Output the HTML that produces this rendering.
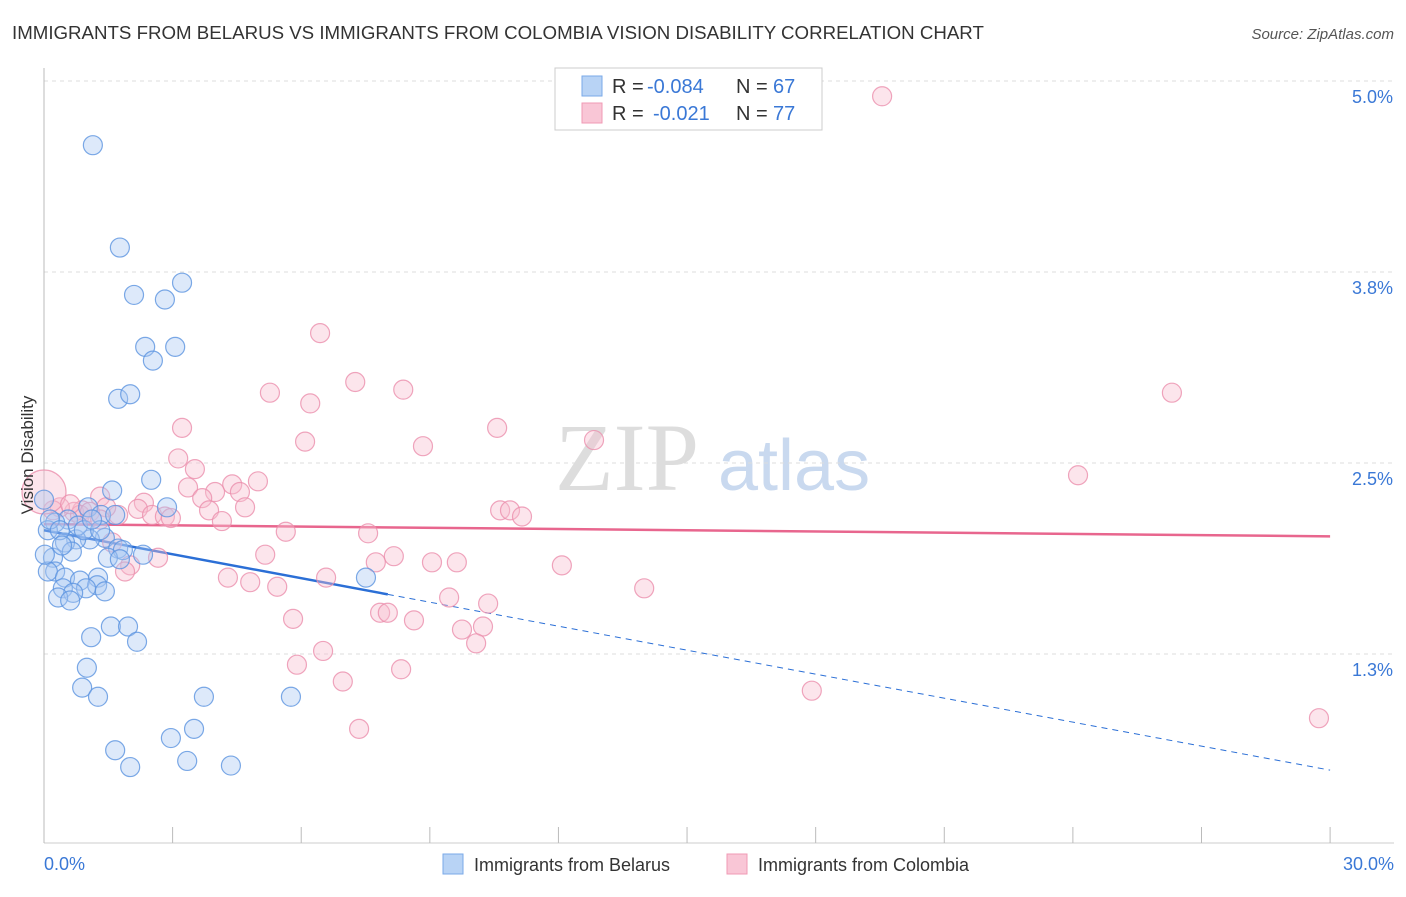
<!DOCTYPE html>
<html><head><meta charset="utf-8"><style>
body{margin:0;background:#fff;font-family:"Liberation Sans",sans-serif}
</style></head><body>
<svg width="1406" height="892" xmlns="http://www.w3.org/2000/svg" font-family="Liberation Sans, sans-serif">
<text x="12" y="39" font-size="18.7" fill="#333">IMMIGRANTS FROM BELARUS VS IMMIGRANTS FROM COLOMBIA VISION DISABILITY CORRELATION CHART</text>
<text x="1394" y="39" font-size="15" fill="#555" font-style="italic" text-anchor="end">Source: ZipAtlas.com</text>
<g><text x="555" y="490" font-size="96" font-family="Liberation Serif, serif" fill="#ddd">ZIP</text><text x="718" y="490" font-size="72" fill="#c9d9ef">atlas</text></g>
<g id="grid"></g>
<g id="axes"></g>
<g id="trend"></g>
<g id="pts"></g>
<g>
<rect x="555" y="68" width="267" height="62" fill="#fff" stroke="#ccc"/>
<rect x="582" y="76" width="20" height="20" fill="#b8d3f5" stroke="#7aaae8"/>
<rect x="582" y="103" width="20" height="20" fill="#f9c6d6" stroke="#f09ab4"/>
<text x="612" y="93" font-size="20" fill="#333">R =</text>
<text x="647" y="93" font-size="20" fill="#3a78d6">-0.084</text>
<text x="736" y="93" font-size="20" fill="#333">N =</text>
<text x="773" y="93" font-size="20" fill="#3a78d6">67</text>
<text x="612" y="120" font-size="20" fill="#333">R =</text>
<text x="653" y="120" font-size="20" fill="#3a78d6">-0.021</text>
<text x="736" y="120" font-size="20" fill="#333">N =</text>
<text x="773" y="120" font-size="20" fill="#3a78d6">77</text>
</g>
<text transform="translate(33,455) rotate(-90)" font-size="17" fill="#333" text-anchor="middle">Vision Disability</text>
<text x="44" y="870" font-size="18" fill="#3a78d6">0.0%</text>
<text x="1394" y="870" font-size="18" fill="#3a78d6" text-anchor="end">30.0%</text>
<g>
<rect x="443" y="854" width="20" height="20" fill="#b8d3f5" stroke="#7aaae8"/>
<text x="474" y="871" font-size="18" fill="#333">Immigrants from Belarus</text>
<rect x="727" y="854" width="20" height="20" fill="#f9c6d6" stroke="#f09ab4"/>
<text x="758" y="871" font-size="18" fill="#333">Immigrants from Colombia</text>
</g>
</svg>
<script>
const yTicks=[5.0,3.75,2.5,1.25];
const yTickLabels=["5.0%","3.8%","2.5%","1.3%"];
const xTicks=[0,3,6,9,12,15,18,21,24,27,30];
const belarusX=[1.14,1.77,2.10,2.82,3.22,2.36,3.06,2.54,1.73,2.01,2.50,1.59,2.87,1.03,1.33,1.66,0.56,0.26,0.09,1.42,1.07,0.75,0.49,0.65,1.73,1.84,2.31,1.49,0.21,0.26,0.09,0.49,0.84,1.26,1.24,0.44,0.98,1.42,0.68,0.33,7.51,1.56,1.96,2.17,1.10,1.00,0.89,1.26,3.73,5.76,3.50,2.96,1.66,3.34,2.01,4.36,0,0.14,0.37,0.79,0.93,0.42,0.02,0.61,1.77,1.31,1.12];
const belarusY=[4.58,3.91,3.60,3.57,3.68,3.26,3.26,3.17,2.92,2.95,2.39,2.32,2.21,2.21,2.16,2.16,2.13,2.11,2.06,2.01,2.00,2.00,1.98,1.92,1.94,1.93,1.90,1.88,1.88,1.79,1.79,1.75,1.73,1.75,1.70,1.68,1.68,1.66,1.65,1.62,1.75,1.43,1.43,1.33,1.36,1.16,1.03,0.97,0.97,0.97,0.76,0.70,0.62,0.55,0.51,0.52,2.26,2.13,2.06,2.09,2.06,1.96,1.90,1.60,1.87,2.06,2.13];
const colombiaX=[19.55,6.44,7.26,8.38,5.27,6.21,3.22,6.09,8.84,10.57,12.83,26.31,24.12,3.13,3.52,3.36,4.39,4.99,4.57,3.99,3.69,3.85,4.69,2.33,2.19,2.52,2.82,2.96,1.73,1.31,0.89,1.45,0.70,0.37,0.21,0,4.15,5.64,7.56,10.64,10.87,11.15,1.59,2.66,2.01,1.89,5.16,8.16,7.74,9.05,9.63,12.08,4.29,4.81,5.44,6.58,9.45,10.36,14.00,7.84,8.02,8.63,5.81,9.75,10.24,10.08,6.51,5.90,8.33,6.97,17.91,29.74,7.35,0.84,1.07,0.61,1.31];
const colombiaY=[4.90,3.35,3.03,2.98,2.96,2.89,2.73,2.64,2.61,2.73,2.65,2.96,2.42,2.53,2.46,2.34,2.36,2.38,2.31,2.31,2.27,2.19,2.21,2.24,2.20,2.16,2.15,2.14,2.16,2.28,2.19,2.21,2.18,2.21,2.19,2.31,2.12,2.05,2.04,2.19,2.19,2.15,1.98,1.88,1.83,1.79,1.90,1.89,1.85,1.85,1.85,1.83,1.75,1.72,1.69,1.75,1.62,1.58,1.68,1.52,1.52,1.47,1.48,1.41,1.43,1.32,1.27,1.18,1.15,1.07,1.01,0.83,0.76,2.16,2.18,2.23,2.13];
const belarusTrend=[2.06,0.49], belarusSolidEnd=8.02;
const colombiaTrend=[2.10,2.02];
const X=v=>44+v*42.87, Y=v=>81+(5-v)*152.8;
const NS="http://www.w3.org/2000/svg";
function mk(p,t,a){const e=document.createElementNS(NS,t);for(const k in a)e.setAttribute(k,a[k]);p.appendChild(e);return e;}
const grid=document.getElementById('grid'),axes=document.getElementById('axes');
yTicks.forEach((v,i)=>{
 const l=mk(grid,'line',{x1:44,x2:1394,y1:Y(v),y2:Y(v),stroke:'#ddd','stroke-dasharray':'4,4'});
 
 
 const t=mk(axes,'text',{x:1393,y:Y(v)+22,'font-size':18,fill:'#3a78d6','text-anchor':'end'});
 t.textContent=yTickLabels[i];
 
 
});
mk(axes,'line',{x1:44,x2:44,y1:68,y2:843,stroke:'#bbb'});
mk(axes,'line',{x1:44,x2:1394,y1:843,y2:843,stroke:'#ccc'});
xTicks.forEach(v=>{
 const l=mk(axes,'line',{x1:X(v),x2:X(v),y1:827,y2:843,stroke:'#bbb'});
 
 
});
const pts=document.getElementById('pts');
function draw(xs,ys,fill,stroke,name,big){
 xs.forEach((x,i)=>{
  const r=(big&&x===0)?22:9.5;
  const c=mk(pts,'circle',{cx:X(x),cy:Y(ys[i]),r:r,fill:fill,'fill-opacity':0.4,stroke:stroke,'stroke-opacity':0.8,'stroke-width':1.2});
  
  
 });
}
draw(colombiaX,colombiaY,'#f8bfd0','#eb8fad','colombia-point',true);
draw(belarusX,belarusY,'#a9c8f2','#5b93e0','belarus-point',false);
const tr=document.getElementById('trend');
const bY=v=>belarusTrend[0]+(belarusTrend[1]-belarusTrend[0])*v/30;
let l=mk(tr,'line',{x1:X(0),y1:Y(bY(0)),x2:X(belarusSolidEnd),y2:Y(bY(belarusSolidEnd)),stroke:'#2b6fd6','stroke-width':2.5});


l=mk(tr,'line',{x1:X(belarusSolidEnd),y1:Y(bY(belarusSolidEnd)),x2:X(30),y2:Y(bY(30)),stroke:'#2b6fd6','stroke-width':1,'stroke-dasharray':'6,5'});


l=mk(tr,'line',{x1:X(0),y1:Y(colombiaTrend[0]),x2:X(30),y2:Y(colombiaTrend[1]),stroke:'#e8668e','stroke-width':2.5});


</script>
</body></html>
